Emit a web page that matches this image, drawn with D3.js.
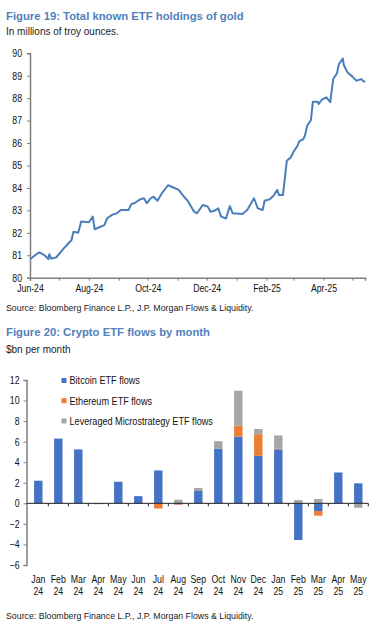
<!DOCTYPE html>
<html>
<head>
<meta charset="utf-8">
<script src="https://cdn.jsdelivr.net/npm/d3@7"></script>
<style>
body { margin: 0; background: #fff; }
svg { display: block; }
.title { font-family: "Liberation Sans", Arial, sans-serif; font-weight: bold; font-size: 11.3px; fill: #4f81bd; }
.sub { font-family: "Liberation Sans", Arial, sans-serif; font-size: 10px; fill: #222; }
.src { font-family: "Liberation Sans", Arial, sans-serif; font-size: 8.8px; fill: #222; }
.tick text, .lbl { font-family: "Liberation Sans", Arial, sans-serif; font-size: 10.5px; fill: #111; }
.leg { font-family: "Liberation Sans", Arial, sans-serif; font-size: 11px; fill: #111; }
</style>
</head>
<body>
<script>
// gold ETF holdings, millions of troy oz
var goldDates = ["2024-06-01","2024-06-09","2024-06-11","2024-06-16","2024-06-20","2024-06-21","2024-06-23","2024-06-28",
  "2024-07-02","2024-07-05","2024-07-10","2024-07-14","2024-07-16","2024-07-21","2024-07-24","2024-08-01",
  "2024-08-05","2024-08-07","2024-08-13","2024-08-17","2024-08-20","2024-08-25","2024-08-30","2024-09-03",
  "2024-09-11","2024-09-14","2024-09-18","2024-09-23","2024-09-27","2024-09-30","2024-10-04","2024-10-07",
  "2024-10-11","2024-10-16","2024-10-22","2024-10-27","2024-11-02","2024-11-07","2024-11-12","2024-11-18",
  "2024-11-21","2024-11-27","2024-12-02","2024-12-05","2024-12-09","2024-12-13","2024-12-16","2024-12-21",
  "2024-12-25","2024-12-28","2025-01-07","2025-01-12","2025-01-15","2025-01-19","2025-01-23","2025-01-28",
  "2025-01-30","2025-02-04","2025-02-08","2025-02-12","2025-02-14","2025-02-18","2025-02-22","2025-02-26",
  "2025-03-01","2025-03-05","2025-03-07","2025-03-11","2025-03-13","2025-03-15","2025-03-19","2025-03-21",
  "2025-03-26","2025-03-27","2025-03-30","2025-04-04","2025-04-08","2025-04-11","2025-04-15","2025-04-17",
  "2025-04-21","2025-04-22","2025-04-26","2025-05-01","2025-05-05","2025-05-10","2025-05-14"];
var goldValues = [80.82,81.09,81.13,81.0,80.83,81.05,80.85,80.9,
  81.1,81.26,81.49,81.68,82.05,82.0,82.5,82.47,
  82.72,82.16,82.27,82.34,82.65,82.8,82.87,83.02,
  83.02,83.28,83.34,83.49,83.54,83.32,83.54,83.61,
  83.43,83.79,84.12,84.03,83.91,83.64,83.39,82.94,
  82.87,83.24,83.17,82.94,82.98,83.09,82.72,82.64,
  83.19,82.87,82.84,83.02,83.24,83.54,83.09,83.02,
  83.43,83.49,83.64,83.91,83.68,83.68,85.21,85.36,
  85.61,85.87,86.09,86.17,86.36,86.76,87.03,87.84,
  87.84,87.74,87.92,88.04,87.82,88.84,89.11,89.52,
  89.77,89.48,89.14,88.96,88.78,88.85,88.71];
var goldTicks = [80, 81, 82, 83, 84, 85, 86, 87, 88, 89, 90];

// crypto ETF flows, $bn per month
var months = ["Jan 24","Feb 24","Mar 24","Apr 24","May 24","Jun 24","Jul 24","Aug 24","Sep 24",
  "Oct 24","Nov 24","Dec 24","Jan 25","Feb 25","Mar 25","Apr 25","May 25"];
var bitcoin  = [2.2, 6.3, 5.25, -0.08, 2.1, 0.7, 3.2, -0.1, 1.2, 5.3, 6.5, 4.63, 5.25, -3.57, -0.75, 3.0, 1.95];
var ethereum = [0, 0, 0, 0, 0, 0, -0.5, -0.05, 0, 0, 1.05, 2.1, 0.05, 0, -0.45, 0, 0];
var mstr     = [0, 0, 0, 0, 0, 0, 0, 0.35, 0.3, 0.75, 3.4, 0.5, 1.3, 0.32, 0.42, 0, -0.43];
var seriesNames = ["Bitcoin ETF flows", "Ethereum ETF flows", "Leveraged Microstrategy ETF flows"];
var flowTicks = [-6, -4, -2, 0, 2, 4, 6, 8, 10, 12];

var colors = ["#4472c4", "#ed7d31", "#a5a5a5"];
var axisCol = "#7f7f7f";
var squeeze = 0.83; // the source text is condensed

var svg = d3.select("body").append("svg")
    .attr("width", 388)
    .attr("height", 627)

// narrow the text horizontally around its own x position
function narrow(sel) {
    sel.each(function(){
        var t = d3.select(this);
        var x = +t.attr("x") || 0;
        t.attr("x", 0).attr("transform", "translate(" + x + ",0) scale(" + squeeze + ",1)");
    })
}

// ---- Figure 19 ----
svg.append("text").attr("class", "title").attr("x", 6).attr("y", 19.5)
    .text("Figure 19: Total known ETF holdings of gold")
svg.append("text").attr("class", "sub").attr("x", 6).attr("y", 35)
    .text("In millions of troy ounces.")

var parse = d3.timeParse("%Y-%m-%d");
var gold = goldDates.map(function(d, i){ return { date: parse(d), value: goldValues[i] }; });

var x1 = d3.scaleTime()
    .domain([parse("2024-06-01"), parse("2025-05-14")])
    .range([30, 365])
var y1 = d3.scaleLinear().domain([80, 90]).range([277.7, 53.3])

var fmt = d3.timeFormat("%b-%y");
var xa1 = svg.append("g")
    .attr("transform", "translate(0," + y1(80) + ")")
    .call(d3.axisBottom(x1)
        .ticks(d3.timeMonth.every(1))
        .tickSize(3)
        .tickPadding(3.5)
        .tickFormat(function(d){ return d.getMonth() % 2 == 1 ? fmt(d) : ""; }))
var ya1 = svg.append("g")
    .attr("transform", "translate(" + x1.range()[0] + ",0)")
    .call(d3.axisLeft(y1).tickValues(goldTicks).tickSize(3).tickPadding(5))

svg.append("path")
    .datum(gold)
    .attr("fill", "none")
    .attr("stroke", "#4a7ebb")
    .attr("stroke-width", 2)
    .attr("stroke-linejoin", "round")
    .attr("d", d3.line().x(function(d){ return x1(d.date); }).y(function(d){ return y1(d.value); }))

svg.append("text").attr("class", "src").attr("x", 6).attr("y", 311)
    .text("Source: Bloomberg Finance L.P., J.P. Morgan Flows & Liquidity.")

// ---- Figure 20 ----
svg.append("text").attr("class", "title").attr("x", 6).attr("y", 335.5)
    .text("Figure 20: Crypto ETF flows by month")
svg.append("text").attr("class", "sub").attr("x", 6).attr("y", 353)
    .text("$bn per month")

var flows = months.map(function(m, i){
    return { month: m, btc: bitcoin[i], eth: ethereum[i], mstr: mstr[i] };
});
var stacked = d3.stack().keys(["btc", "eth", "mstr"]).offset(d3.stackOffsetDiverging)(flows);

var x2 = d3.scaleBand().domain(months).range([28.3, 368.3]).paddingInner(0.58).paddingOuter(0.29)
var y2 = d3.scaleLinear().domain([-6, 12]).range([565, 380])

svg.append("g")
    .attr("transform", "translate(26.5,0)")
    .call(d3.axisLeft(y2).tickValues(flowTicks).tickSize(3).tickPadding(4))

svg.selectAll(".series").data(stacked).enter().append("g")
    .attr("fill", function(d, i){ return colors[i]; })
    .selectAll("rect").data(function(d){ return d; }).enter().append("rect")
    .attr("x", function(d){ return x2(d.data.month); })
    .attr("width", x2.bandwidth())
    .attr("y", function(d){ return y2(Math.max(d[0], d[1])); })
    .attr("height", function(d){ return Math.abs(y2(d[0]) - y2(d[1])); })

// zero line with ticks between months
var step = x2.step();
var xa2 = svg.append("g")
xa2.append("line")
    .attr("x1", 26.5).attr("x2", 368.3)
    .attr("y1", y2(0)).attr("y2", y2(0))
    .attr("stroke", "#000")
xa2.selectAll(".sep").data(months.slice(1).concat(["end"])).enter().append("line")
    .attr("x1", function(d, i){ return 28.3 + (i + 1) * step; })
    .attr("x2", function(d, i){ return 28.3 + (i + 1) * step; })
    .attr("y1", y2(0)).attr("y2", y2(0) + 3)
    .attr("stroke", "#000")

var lab = svg.append("g").selectAll("g").data(months).enter().append("g")
    .attr("transform", function(d){ return "translate(" + (x2(d) + x2.bandwidth() / 2) + ",0) scale(" + squeeze + ",1)"; })
lab.append("text").attr("class", "lbl").attr("text-anchor", "middle").attr("y", 583)
    .text(function(d){ return d.split(" ")[0]; })
lab.append("text").attr("class", "lbl").attr("text-anchor", "middle").attr("y", 595.5)
    .text(function(d){ return d.split(" ")[1]; })

// legend
var leg = svg.append("g").selectAll("g").data(seriesNames).enter().append("g")
    .attr("transform", function(d, i){ return "translate(61.5," + (380.5 + i * 20.2) + ")"; })
leg.append("rect").attr("x", 0).attr("y", -2.5).attr("width", 5).attr("height", 5)
    .attr("fill", function(d, i){ return colors[i]; })
leg.append("text").attr("class", "leg").attr("x", 8).attr("y", 3.8).text(function(d){ return d; })

svg.append("text").attr("class", "src").attr("x", 6).attr("y", 619)
    .text("Source: Bloomberg Finance L.P., J.P. Morgan Flows & Liquidity.")

// axis styling
svg.selectAll(".domain").attr("stroke", axisCol).attr("stroke-width", 1.5)
svg.selectAll(".tick line").attr("stroke", axisCol)
xa2.selectAll("line").attr("stroke", "#222")
narrow(svg.selectAll(".tick text"))
narrow(leg.selectAll("text"))
</script>
</body>
</html>
